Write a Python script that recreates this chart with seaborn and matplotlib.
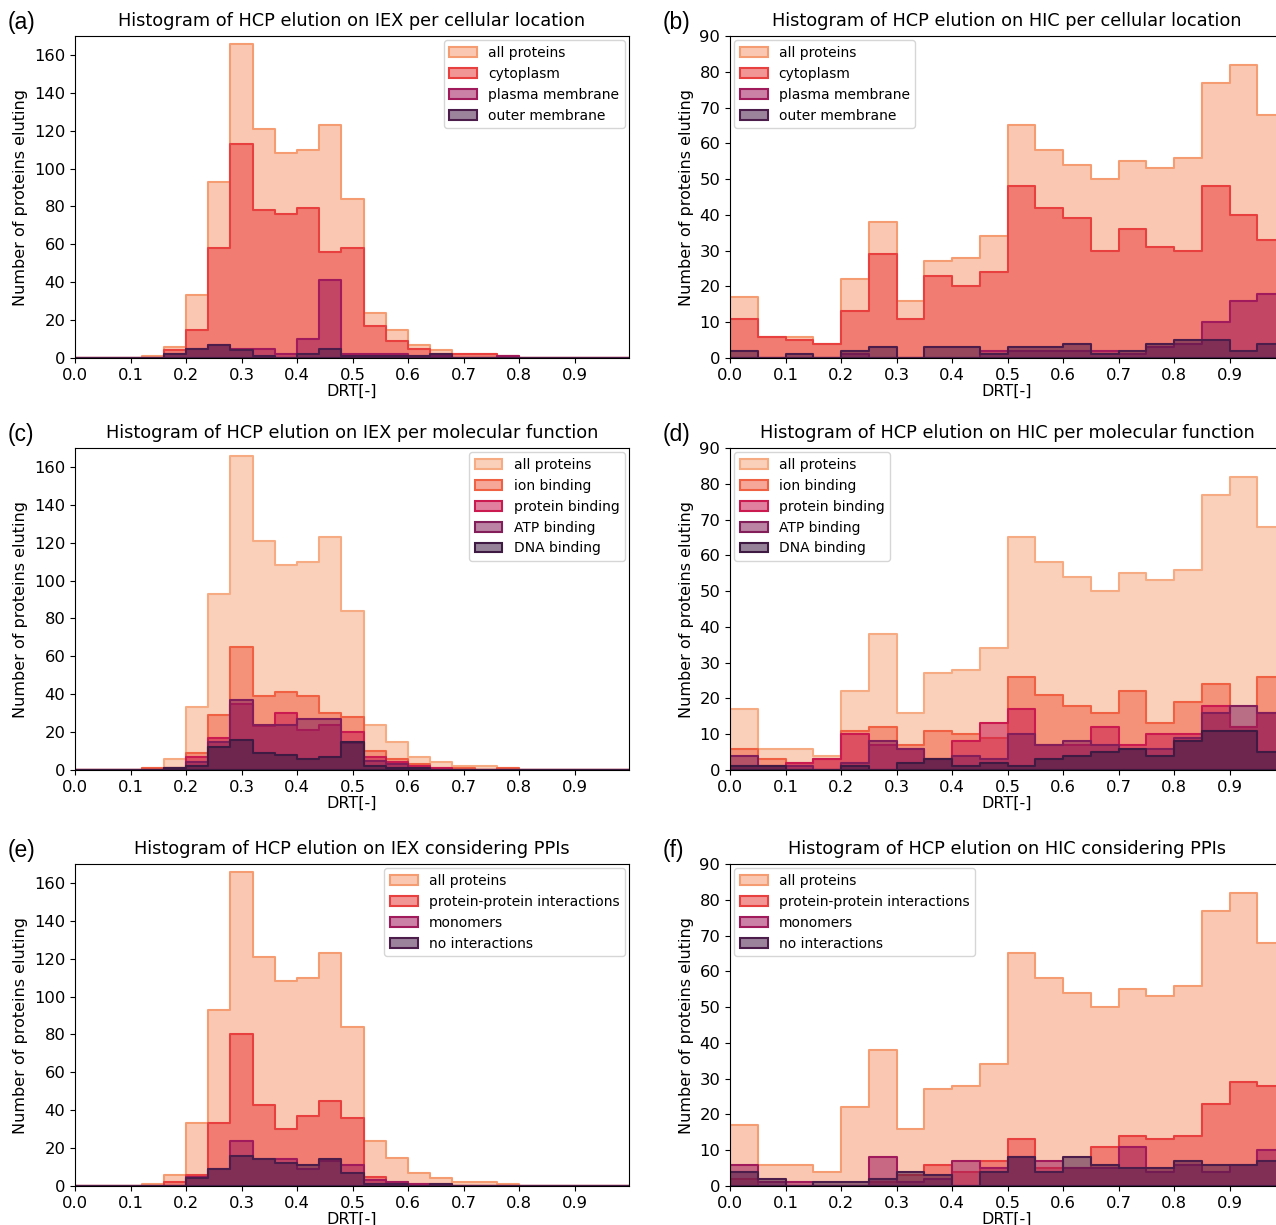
import numpy as np
import pandas as pd
import matplotlib
matplotlib.use("Agg")
import matplotlib.pyplot as plt
import seaborn as sns

# bin edges of the two chromatography histograms
iex_edges = np.round(np.arange(0, 1.0001, 0.04), 2)
hic_edges = np.round(np.arange(0, 1.0001, 0.05), 2)

# IEX counts per bin (25 bins of 0.04)
iex_all = [0, 0, 0, 1, 6, 33, 93, 166, 121, 108, 110, 123, 84, 24, 15, 7, 4, 2, 2, 1, 0, 0, 0, 0, 0]
iex_cyto = [0, 0, 0, 0, 4, 15, 58, 113, 78, 76, 79, 56, 58, 17, 9, 5, 2, 2, 2, 1, 0, 0, 0, 0, 0]
iex_plasma = [0, 0, 0, 0, 2, 5, 7, 5, 5, 2, 10, 41, 2, 2, 2, 1, 1, 0, 0, 1, 0, 0, 0, 0, 0]
iex_outer = [0, 0, 0, 0, 2, 5, 7, 4, 1, 0, 2, 5, 1, 1, 1, 1, 2, 0, 0, 0, 0, 0, 0, 0, 0]
iex_ion = [0, 0, 0, 1, 1, 9, 29, 65, 39, 41, 39, 30, 28, 10, 6, 3, 1, 1, 0, 1, 0, 0, 0, 0, 0]
iex_protein = [0, 0, 0, 0, 1, 7, 17, 35, 23, 30, 21, 24, 20, 7, 4, 2, 1, 0, 0, 0, 0, 0, 0, 0, 0]
iex_atp = [0, 0, 0, 0, 1, 4, 15, 37, 24, 24, 27, 27, 14, 5, 3, 1, 0, 0, 0, 0, 0, 0, 0, 0, 0]
iex_dna = [0, 0, 0, 0, 1, 2, 12, 16, 9, 8, 6, 7, 15, 2, 1, 1, 0, 0, 0, 0, 0, 0, 0, 0, 0]
iex_ppi = [0, 0, 0, 0, 2, 6, 33, 80, 43, 30, 37, 45, 36, 5, 2, 1, 1, 0, 0, 0, 0, 0, 0, 0, 0]
iex_mono = [0, 0, 0, 0, 0, 5, 9, 24, 14, 14, 9, 13, 11, 3, 2, 1, 0, 0, 0, 0, 0, 0, 0, 0, 0]
iex_none = [0, 0, 0, 0, 0, 4, 9, 16, 14, 12, 11, 14, 7, 1, 1, 0, 1, 0, 0, 0, 0, 0, 0, 0, 0]

# HIC counts per bin (20 bins of 0.05)
hic_all = [17, 6, 6, 4, 22, 38, 16, 27, 28, 34, 65, 58, 54, 50, 55, 53, 56, 77, 82, 68]
hic_cyto = [11, 6, 5, 4, 13, 29, 11, 23, 20, 24, 48, 42, 39, 30, 36, 31, 30, 48, 40, 33]
hic_plasma = [0, 0, 0, 0, 1, 0, 0, 0, 0, 2, 2, 2, 2, 2, 1, 3, 4, 10, 16, 18]
hic_outer = [2, 0, 1, 0, 2, 3, 0, 3, 3, 1, 3, 3, 4, 1, 2, 4, 5, 5, 2, 4]
hic_ion = [6, 3, 2, 3, 11, 12, 7, 11, 10, 9, 26, 21, 18, 16, 22, 13, 19, 24, 12, 26]
hic_protein = [1, 1, 2, 3, 10, 7, 6, 3, 8, 13, 17, 7, 7, 12, 7, 10, 10, 18, 12, 16]
hic_atp = [4, 1, 1, 0, 2, 8, 6, 3, 4, 3, 10, 7, 8, 7, 6, 6, 9, 16, 18, 16]
hic_dna = [1, 1, 0, 0, 1, 0, 2, 3, 1, 2, 1, 3, 4, 5, 6, 4, 8, 11, 11, 5]
hic_ppi = [2, 0, 0, 0, 0, 1, 3, 6, 4, 7, 13, 5, 5, 11, 14, 13, 14, 23, 29, 28]
hic_mono = [6, 1, 1, 0, 0, 8, 1, 2, 7, 5, 8, 7, 5, 5, 11, 4, 6, 4, 6, 10]
hic_none = [4, 2, 0, 1, 1, 2, 4, 3, 0, 4, 8, 4, 8, 6, 5, 5, 7, 6, 6, 7]

location_labels = ["all proteins", "cytoplasm", "plasma membrane", "outer membrane"]
function_labels = ["all proteins", "ion binding", "protein binding", "ATP binding", "DNA binding"]
ppi_labels = ["all proteins", "protein-protein interactions", "monomers", "no interactions"]


def make_df(edges, labels, series):
    centers = (edges[:-1] + edges[1:]) / 2
    rows = []
    for lab, counts in zip(labels, series):
        for c, n in zip(centers, counts):
            rows.append({"drt": c, "count": n, "group": lab})
    return pd.DataFrame(rows)


def draw_panel(ax, edges, labels, series, title, letter, loc, iex):
    df = make_df(edges, labels, series)
    sns.histplot(data=df, x="drt", weights="count", hue="group",
                 hue_order=labels, bins=edges.tolist(), element="step",
                 alpha=0.55, palette="rocket_r", linewidth=1.5, ax=ax)
    # seaborn draws the last hue level first; put "all proteins" at the back
    n = len(ax.collections)
    for i, coll in enumerate(ax.collections):
        coll.set_zorder(1 + 0.1 * (n - 1 - i))
    sns.move_legend(ax, loc, title=None, fontsize=10, labelspacing=0.5,
                    borderaxespad=0.3)
    ax.set_xlim(0, 0.998)
    ax.set_xticks(np.arange(0, 0.95, 0.1))
    ax.set_xticklabels([f"{t:.1f}" for t in np.arange(0, 0.95, 0.1)])
    if iex:
        ax.set_ylim(0, 170)
        ax.set_yticks(range(0, 161, 20))
    else:
        ax.set_ylim(0, 90)
        ax.set_yticks(range(0, 91, 10))
    ax.tick_params(labelsize=11.8)
    ax.set_xlabel("DRT[-]", fontsize=11.5, labelpad=1)
    ax.set_ylabel("Number of proteins eluting", fontsize=11.5)
    ax.set_title(title, fontsize=12.8, pad=7)
    bb = ax.get_position()
    fig.text(bb.x0 - 0.053, bb.y1 + 0.011, letter, fontsize=16.5,
             family="Liberation Sans", va="center", ha="left")


fig = plt.figure(figsize=(12.76, 12.25), dpi=100)
W, H = 1276, 1225
axw, axh = 554 / W, 322 / H
lefts = [75 / W, 730 / W]
bottoms = [1 - 358 / H, 1 - 770 / H, 1 - 1186 / H]

ax = fig.add_axes([lefts[0], bottoms[0], axw, axh])
draw_panel(ax, iex_edges, location_labels, [iex_all, iex_cyto, iex_plasma, iex_outer],
           "Histogram of HCP elution on IEX per cellular location", "(a)", "upper right", True)
ax = fig.add_axes([lefts[1], bottoms[0], axw, axh])
draw_panel(ax, hic_edges, location_labels, [hic_all, hic_cyto, hic_plasma, hic_outer],
           "Histogram of HCP elution on HIC per cellular location", "(b)", "upper left", False)
ax = fig.add_axes([lefts[0], bottoms[1], axw, axh])
draw_panel(ax, iex_edges, function_labels, [iex_all, iex_ion, iex_protein, iex_atp, iex_dna],
           "Histogram of HCP elution on IEX per molecular function", "(c)", "upper right", True)
ax = fig.add_axes([lefts[1], bottoms[1], axw, axh])
draw_panel(ax, hic_edges, function_labels, [hic_all, hic_ion, hic_protein, hic_atp, hic_dna],
           "Histogram of HCP elution on HIC per molecular function", "(d)", "upper left", False)
ax = fig.add_axes([lefts[0], bottoms[2], axw, axh])
draw_panel(ax, iex_edges, ppi_labels, [iex_all, iex_ppi, iex_mono, iex_none],
           "Histogram of HCP elution on IEX considering PPIs", "(e)", "upper right", True)
ax = fig.add_axes([lefts[1], bottoms[2], axw, axh])
draw_panel(ax, hic_edges, ppi_labels, [hic_all, hic_ppi, hic_mono, hic_none],
           "Histogram of HCP elution on HIC considering PPIs", "(f)", "upper left", False)

fig.savefig("out.png", dpi=100)
